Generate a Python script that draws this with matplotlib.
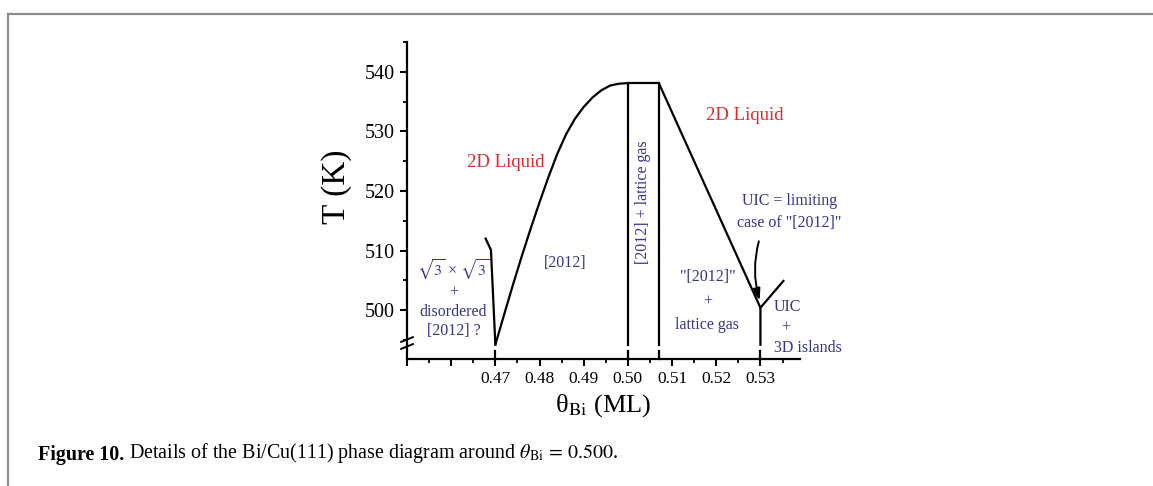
import matplotlib.pyplot as plt
from matplotlib.lines import Line2D

plt.rcParams['font.family'] = ['Liberation Serif', 'DejaVu Serif']
plt.rcParams['mathtext.fontset'] = 'stix'

# phase boundaries (coverage in ML, temperature in K)
dome_x = [0.470, 0.472, 0.474, 0.476, 0.478, 0.480, 0.482, 0.484,
          0.486, 0.488, 0.490, 0.492, 0.494, 0.496, 0.498, 0.500]
dome_T = [494.2, 499.3, 504.3, 509.1, 513.7, 518.1, 522.3, 526.2,
          529.5, 532.1, 534.1, 535.7, 536.9, 537.7, 538.0, 538.1]

left_x = [0.4678, 0.4690, 0.4700]
left_T = [512.0, 510.1, 494.2]

box_x = [0.5000, 0.5000, 0.5070, 0.5070]
box_T = [494.2, 538.1, 538.1, 494.2]

slope_x = [0.5070, 0.5300, 0.5300]
slope_T = [538.1, 500.4, 494.2]

uic_x = [0.5300, 0.5352]
uic_T = [500.4, 504.9]

stub_x = [0.4700, 0.5000, 0.5070, 0.5300]
stub_T = [493.1, 491.8]

xticks = [0.45, 0.46, 0.47, 0.48, 0.49, 0.50, 0.51, 0.52, 0.53]
xticklabels = ['', '', '0.47', '0.48', '0.49', '0.50', '0.51', '0.52', '0.53']
yticks = [500, 510, 520, 530, 540]

red = '#e5262b'
blue = '#34348f'

fig = plt.figure(figsize=(11.53, 4.86), dpi=100)
ax = fig.add_axes([0.353, 0.2613, 0.341, 0.6523])

lw = 1.6
ax.plot(dome_x, dome_T, color='black', lw=lw, solid_capstyle='butt')
ax.plot(left_x, left_T, color='black', lw=lw)
ax.plot(box_x, box_T, color='black', lw=lw, solid_joinstyle='miter')
ax.plot(slope_x, slope_T, color='black', lw=lw)
ax.plot(uic_x, uic_T, color='black', lw=lw)
for sx in stub_x:
    ax.plot([sx, sx], stub_T, color='black', lw=lw, clip_on=False)

ax.annotate('', xy=(0.5300, 501.2), xytext=(0.5298, 512.0),
            arrowprops=dict(arrowstyle='-|>,head_length=0.7,head_width=0.25',
                            color='black', lw=1.4,
                            connectionstyle='arc3,rad=0.15'))

ax.set_xlim(0.45, 0.539)
ax.set_ylim(491.8, 545)
ax.set_xticks(xticks)
ax.set_xticklabels(xticklabels)
ax.set_yticks(yticks)
ax.set_xticks([0.455 + 0.01 * i for i in range(9)], minor=True)
ax.set_yticks([495, 505, 515, 525, 535, 545], minor=True)
ax.tick_params(axis='x', labelsize=12.5, width=1.5, length=5, direction='out')
ax.tick_params(axis='y', labelsize=14.5, width=1.5, length=5, direction='out')
ax.tick_params(which='minor', width=1.3, length=3)
ax.spines['top'].set_visible(False)
ax.spines['right'].set_visible(False)
ax.spines['left'].set_linewidth(1.6)
ax.spines['bottom'].set_linewidth(1.6)

ax.set_ylabel('T (K)', fontsize=24)
ax.yaxis.set_label_coords(-0.14, 0.543)
ax.set_xlabel(r'θ$_{\mathrm{Bi}}$ (ML)', fontsize=19, labelpad=4)

# axis break marks on the y axis
for dy in (0.0, 0.022):
    ax.plot([-0.015, 0.015], [0.032 + dy, 0.047 + dy], transform=ax.transAxes,
            color='black', lw=1.4, clip_on=False)

ax.text(0.4723, 524.7, '2D Liquid', color=red, fontsize=13.5, ha='center', va='center')
ax.text(0.5264, 532.6, '2D Liquid', color=red, fontsize=13.5, ha='center', va='center')
ax.text(0.4859, 507.9, '[2012]', color=blue, fontsize=11.5, ha='center', va='center')
ax.text(0.50342, 518.2, '[2012] + lattice gas', color=blue, fontsize=11.5,
        ha='center', va='center', rotation=90)
ax.text(0.4605, 502.0, '$\\sqrt{3}$ × $\\sqrt{3}$\n+\ndisordered\n[2012] ?', color=blue,
        fontsize=11.5, ha='center', va='center', linespacing=1.25)
ax.text(0.5180, 501.5, '"[2012]"\n+\nlattice gas', color=blue, fontsize=11.5,
        ha='center', va='center', linespacing=1.65)
ax.text(0.5330, 497.1, 'UIC\n  +\n3D islands', color=blue, fontsize=11.5,
        ha='left', va='center', linespacing=1.35)
ax.text(0.5366, 516.5, 'UIC = limiting\ncase of "[2012]"', color=blue, fontsize=11.5,
        ha='center', va='center', linespacing=1.55)

# page frame and caption
fig.add_artist(Line2D([8 / 1153, 1], [1 - 14 / 486, 1 - 14 / 486],
                      transform=fig.transFigure, color='#8c8c8c', lw=1.6))
fig.add_artist(Line2D([8 / 1153, 8 / 1153], [0, 1 - 14 / 486],
                      transform=fig.transFigure, color='#8c8c8c', lw=1.6))

cap = fig.text(38 / 1153, 1 - 460 / 486, 'Figure 10.', fontsize=14.4, weight='bold',
               va='baseline')
ax.annotate(r' Details of the Bi/Cu(111) phase diagram around $\theta_{\mathrm{Bi}}\,=\,0.500$.',
            xy=(1, 0), xycoords=cap, va='bottom', ha='left', fontsize=14.4,
            annotation_clip=False)

fig.savefig('out.png', dpi=100)
